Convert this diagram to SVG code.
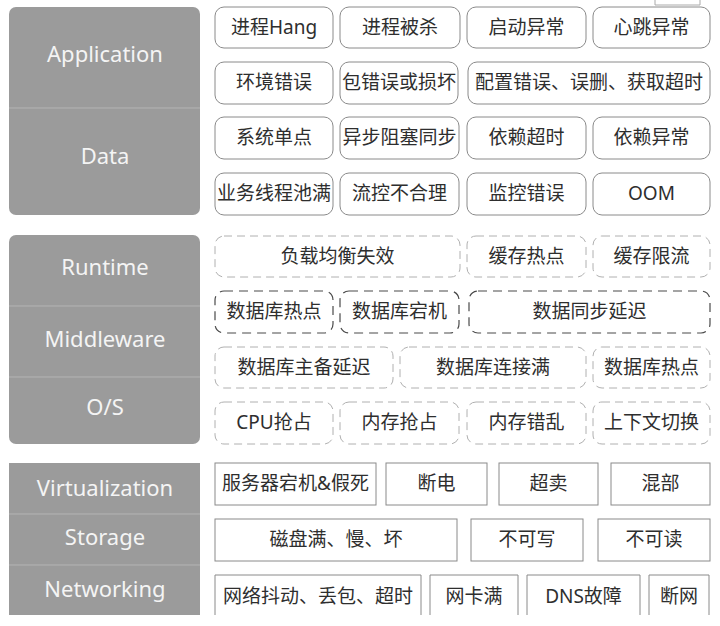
<svg xmlns="http://www.w3.org/2000/svg" width="720" height="626" viewBox="0 0 720 626">
<style>
.panel{fill:#9b9b9b}
.div{stroke:#b4b4b4;stroke-width:1}
.lbl{font-family:"Noto Sans","DejaVu Sans",sans-serif;font-size:22px;fill:#f4f4f4;text-anchor:middle}
.t{font-family:"Noto Sans","Noto Sans CJK SC",sans-serif;font-size:19px;fill:#2e2e2e;text-anchor:middle}
.rb{fill:#fff;stroke:#8a8a8a;stroke-width:1}
.db{fill:#fff;stroke:#b0b0b0;stroke-width:1;stroke-dasharray:8 5}
.dk{fill:#fff;stroke:#4a4a4a;stroke-width:1.2;stroke-dasharray:9 6}
.sb{fill:#fff;stroke:#8a8a8a;stroke-width:1}
</style>
<rect width="720" height="626" fill="#fff"/>
<path d="M655 0V5H700V0" fill="none" stroke="#aaa" stroke-width="1"/>

<!-- Layer panels -->
<g id="panel-app-data">
<rect class="panel" x="9" y="7" width="191" height="208" rx="7"/>
<line class="div" x1="9" y1="108" x2="200" y2="108"/>
<text class="lbl" x="105" y="62">Application</text>
<text class="lbl" x="105" y="164">Data</text>
</g>
<g id="panel-runtime">
<rect class="panel" x="9" y="235" width="191" height="209" rx="7"/>
<line class="div" x1="9" y1="306" x2="200" y2="306"/>
<line class="div" x1="9" y1="377" x2="200" y2="377"/>
<text class="lbl" x="105" y="275">Runtime</text>
<text class="lbl" x="105" y="347">Middleware</text>
<text class="lbl" x="105" y="415">O/S</text>
</g>
<g id="panel-infra">
<rect class="panel" x="9" y="463" width="191" height="152"/>
<line class="div" x1="9" y1="514" x2="200" y2="514"/>
<line class="div" x1="9" y1="565" x2="200" y2="565"/>
<text class="lbl" x="105" y="496">Virtualization</text>
<text class="lbl" x="105" y="545">Storage</text>
<text class="lbl" x="105" y="597">Networking</text>
</g>

<!-- Application / Data -->
<g id="n-hang"><rect class="rb" x="215" y="7" width="118" height="41" rx="9"/><text class="t" x="274" y="34">进程Hang</text></g>
<g id="n-killed"><rect class="rb" x="340" y="7" width="120" height="41" rx="9"/><text class="t" x="400" y="34">进程被杀</text></g>
<g id="n-start"><rect class="rb" x="467" y="7" width="119" height="41" rx="9"/><text class="t" x="526.5" y="34">启动异常</text></g>
<g id="n-heart"><rect class="rb" x="593" y="7" width="117" height="41" rx="9"/><text class="t" x="651.5" y="34">心跳异常</text></g>

<g id="n-env"><rect class="rb" x="215" y="62" width="118" height="42" rx="9"/><text class="t" x="274" y="89">环境错误</text></g>
<g id="n-pkg"><rect class="rb" x="340" y="62" width="118" height="42" rx="9"/><text class="t" x="399" y="89">包错误或损坏</text></g>
<g id="n-conf"><rect class="rb" x="468" y="62" width="242" height="42" rx="9"/><text class="t" x="589" y="89">配置错误、误删、获取超时</text></g>

<g id="n-spof"><rect class="rb" x="215" y="117" width="118" height="42" rx="9"/><text class="t" x="274" y="144">系统单点</text></g>
<g id="n-async"><rect class="rb" x="340" y="117" width="119" height="42" rx="9"/><text class="t" x="399.5" y="144">异步阻塞同步</text></g>
<g id="n-deptime"><rect class="rb" x="467" y="117" width="119" height="42" rx="9"/><text class="t" x="526.5" y="144">依赖超时</text></g>
<g id="n-depexc"><rect class="rb" x="593" y="117" width="117" height="42" rx="9"/><text class="t" x="651.5" y="144">依赖异常</text></g>

<g id="n-pool"><rect class="rb" x="215" y="173" width="118" height="42" rx="9"/><text class="t" x="274" y="200">业务线程池满</text></g>
<g id="n-flow"><rect class="rb" x="340" y="173" width="119" height="42" rx="9"/><text class="t" x="399.5" y="200">流控不合理</text></g>
<g id="n-mon"><rect class="rb" x="467" y="173" width="119" height="42" rx="9"/><text class="t" x="526.5" y="200">监控错误</text></g>
<g id="n-oom"><rect class="rb" x="593" y="173" width="117" height="42" rx="9"/><text class="t" x="651.5" y="200">OOM</text></g>

<!-- Runtime / Middleware / OS -->
<g id="n-lb"><rect class="db" x="215" y="236" width="245" height="41" rx="9"/><text class="t" x="337.5" y="263">负载均衡失效</text></g>
<g id="n-cachehot"><rect class="db" x="467" y="236" width="119" height="41" rx="9"/><text class="t" x="526.5" y="263">缓存热点</text></g>
<g id="n-cachelimit"><rect class="db" x="593" y="236" width="117" height="41" rx="9"/><text class="t" x="651.5" y="263">缓存限流</text></g>

<g id="n-dbhot1"><rect class="dk" x="215" y="291" width="118" height="42" rx="9"/><text class="t" x="274" y="318">数据库热点</text></g>
<g id="n-dbdown"><rect class="dk" x="340" y="291" width="119" height="42" rx="9"/><text class="t" x="399.5" y="318">数据库宕机</text></g>
<g id="n-sync"><rect class="dk" x="469" y="291" width="241" height="42" rx="9"/><text class="t" x="589.5" y="318">数据同步延迟</text></g>

<g id="n-dbrep"><rect class="db" x="215" y="347" width="178" height="41" rx="9"/><text class="t" x="304" y="374">数据库主备延迟</text></g>
<g id="n-dbconn"><rect class="db" x="400" y="347" width="186" height="41" rx="9"/><text class="t" x="493" y="374">数据库连接满</text></g>
<g id="n-dbhot2"><rect class="db" x="593" y="347" width="117" height="41" rx="9"/><text class="t" x="651.5" y="374">数据库热点</text></g>

<g id="n-cpu"><rect class="db" x="215" y="402" width="118" height="42" rx="9"/><text class="t" x="274" y="429">CPU抢占</text></g>
<g id="n-mem"><rect class="db" x="340" y="402" width="119" height="42" rx="9"/><text class="t" x="399.5" y="429">内存抢占</text></g>
<g id="n-memerr"><rect class="db" x="467" y="402" width="119" height="42" rx="9"/><text class="t" x="526.5" y="429">内存错乱</text></g>
<g id="n-ctx"><rect class="db" x="593" y="402" width="117" height="42" rx="9"/><text class="t" x="651.5" y="429">上下文切换</text></g>

<!-- Virtualization / Storage / Networking -->
<g id="n-server"><rect class="sb" x="215" y="463" width="161" height="42"/><text class="t" x="295.5" y="490">服务器宕机&amp;假死</text></g>
<g id="n-power"><rect class="sb" x="386" y="463" width="101" height="42"/><text class="t" x="436.5" y="490">断电</text></g>
<g id="n-oversell"><rect class="sb" x="499" y="463" width="99" height="42"/><text class="t" x="548.5" y="490">超卖</text></g>
<g id="n-mix"><rect class="sb" x="611" y="463" width="99" height="42"/><text class="t" x="660.5" y="490">混部</text></g>

<g id="n-disk"><rect class="sb" x="215" y="519" width="242" height="42"/><text class="t" x="336" y="546">磁盘满、慢、坏</text></g>
<g id="n-nowrite"><rect class="sb" x="471" y="519" width="112" height="42"/><text class="t" x="527" y="546">不可写</text></g>
<g id="n-noread"><rect class="sb" x="598" y="519" width="112" height="42"/><text class="t" x="654" y="546">不可读</text></g>

<g id="n-jitter"><path class="sb" d="M215 615V575H421V615" fill="none"/><text class="t" x="318" y="603">网络抖动、丢包、超时</text></g>
<g id="n-nic"><path class="sb" d="M430 615V575H518V615" fill="none"/><text class="t" x="474" y="603">网卡满</text></g>
<g id="n-dns"><path class="sb" d="M527 615V575H640V615" fill="none"/><text class="t" x="583.5" y="603">DNS故障</text></g>
<g id="n-netdown"><path class="sb" d="M649 615V575H709V615" fill="none"/><text class="t" x="679" y="603">断网</text></g>

<g id="connectors"></g>
</svg>
